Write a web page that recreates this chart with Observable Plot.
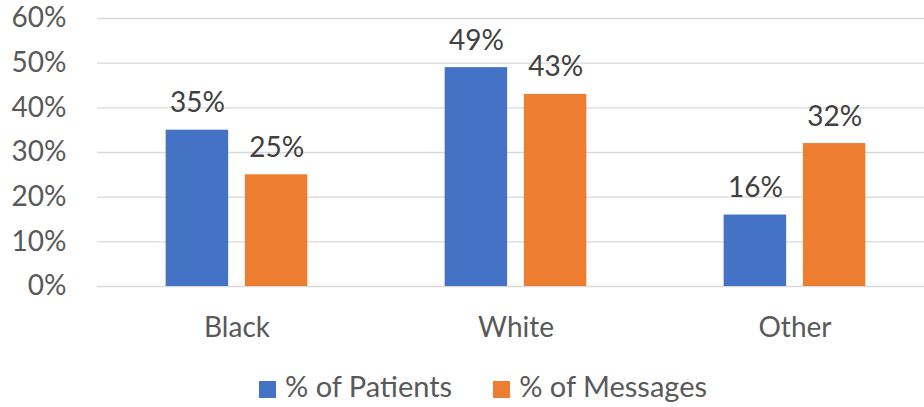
<!DOCTYPE html>
<html>
<head>
<meta charset="utf-8">
<script src="https://cdn.jsdelivr.net/npm/d3@7"></script>
<script src="https://cdn.jsdelivr.net/npm/@observablehq/plot@0.6"></script>
<style>
  body { margin: 0; background: #fff; font-family: Lato, "Open Sans", sans-serif; }
  #chart { position: relative; width: 924px; height: 407px; overflow: hidden; }
  #chart svg { display: block; }
  .legend { position: absolute; left: 259px; top: 371px; display: flex; align-items: center;
            font-size: 29px; color: #595959; line-height: 1; }
  .legend .item { display: flex; align-items: center; margin-right: 41px; }
  .legend .swatch { width: 17px; height: 17px; margin-right: 9px; position: relative; top: 4px; }
</style>
</head>
<body>
<div id="chart"></div>
<script>
// Share of patients vs. share of patient messages, by race
const categories = ["Black", "White", "Other"];
const patients = [35, 49, 16];
const messages = [25, 43, 32];
const yTicks = [0, 10, 20, 30, 40, 50, 60];
const seriesNames = ["% of Patients", "% of Messages"];
const seriesColors = ["#4472C4", "#ED7D31"];

const patientRows = categories.map((c, i) => ({category: c, value: patients[i]}));
const messageRows = categories.map((c, i) => ({category: c, value: messages[i]}));

// Layout of the two bars inside each category band
const step = 279;
const barW = 62.5, gap = 16.7;
const outer = (step - 2 * barW - gap) / 2;
const shift = (barW + gap) / 2;

const pct = d => `${d}%`;

const chart = Plot.plot({
  width: 924,
  height: 355,
  marginLeft: 97,
  marginRight: 0,
  marginTop: 18,
  marginBottom: 69,
  style: {fontFamily: "Lato, 'Open Sans', sans-serif", background: "#fff"},
  x: {domain: categories, range: [97, 97 + 3 * step], padding: 0},
  y: {domain: [0, 60], ticks: yTicks},
  marks: [
    Plot.gridY(yTicks, {stroke: "#D9D9D9", strokeOpacity: 1, strokeWidth: 1.4}),
    Plot.axisY(yTicks, {tickSize: 0, tickPadding: 31, tickFormat: pct, fontSize: 28, fill: "#595959", label: null}),
    Plot.axisX({tickSize: 0, tickPadding: 31, fontSize: 28, fill: "#595959", label: null}),
    Plot.barY(patientRows, {x: "category", y: "value", fill: seriesColors[0],
      insetLeft: outer, insetRight: step - outer - barW}),
    Plot.barY(messageRows, {x: "category", y: "value", fill: seriesColors[1],
      insetLeft: step - outer - barW, insetRight: outer}),
    Plot.text(patientRows, {x: "category", y: "value", text: d => pct(d.value), dx: -shift, dy: -18,
      lineAnchor: "bottom", fontSize: 28, fill: "#404040"}),
    Plot.text(messageRows, {x: "category", y: "value", text: d => pct(d.value), dx: shift, dy: -18,
      lineAnchor: "bottom", fontSize: 28, fill: "#404040"})
  ]
});

const root = document.getElementById("chart");
root.appendChild(chart);

// Legend below the plot
const legend = document.createElement("div");
legend.className = "legend";
seriesNames.forEach((name, i) => {
  const item = document.createElement("div");
  item.className = "item";
  const sw = document.createElement("span");
  sw.className = "swatch";
  sw.style.background = seriesColors[i];
  const label = document.createElement("span");
  label.textContent = name;
  item.appendChild(sw);
  item.appendChild(label);
  legend.appendChild(item);
});
root.appendChild(legend);
</script>
</body>
</html>
